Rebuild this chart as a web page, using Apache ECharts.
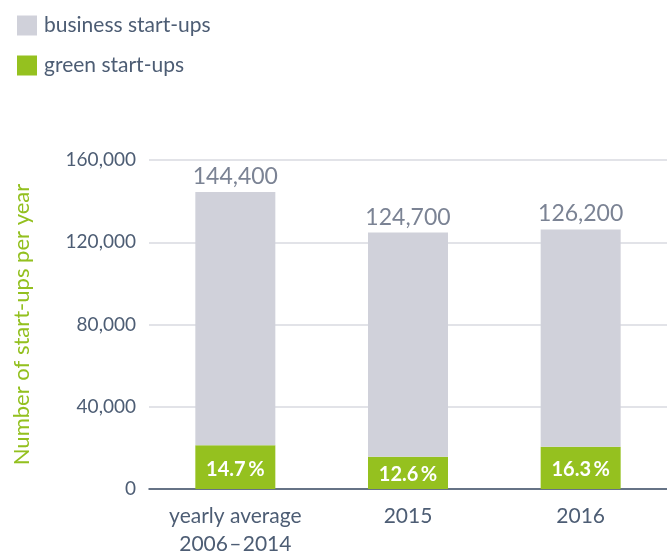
<!DOCTYPE html>
<html>
<head>
<meta charset="utf-8">
<script src="https://cdn.jsdelivr.net/npm/echarts@6/dist/echarts.min.js"></script>
<style>
  html, body { margin: 0; padding: 0; background: #fff; }
  #chart { width: 667px; height: 554px; }
</style>
</head>
<body>
<div id="chart"></div>
<script>
// data
var categories = ['yearly average\n2006\u200a\u2013\u200a2014', '2015', '2016'];
var totals = [144400, 124700, 126200];
var greenShare = [14.7, 12.6, 16.3];
var yTicks = [0, 40000, 80000, 120000, 160000];

var greenVals = totals.map(function (t, i) { return Math.round(t * greenShare[i] / 100); });
var restVals = totals.map(function (t, i) { return t - greenVals[i]; });

var chart = echarts.init(document.getElementById('chart'));
var font = 'Lato, "Noto Sans", sans-serif';

var option = {
  animation: false,
  textStyle: { fontFamily: font },
  legend: {
    orient: 'vertical',
    left: 12,
    top: 10,
    itemWidth: 20,
    itemHeight: 20,
    itemGap: 19,
    icon: 'rect',
    data: ['business start-ups', 'green start-ups'],
    textStyle: { color: '#4d5d74', fontSize: 21, fontFamily: font, padding: [0, 0, 0, 2] }
  },
  grid: { left: 149, right: 0, top: 160, bottom: 65, outerBoundsMode: 'none', containLabel: false },
  xAxis: {
    type: 'category',
    data: categories,
    axisTick: { show: false },
    axisLine: { lineStyle: { color: '#3e4f66', width: 1.5 } },
    axisLabel: { interval: 0, color: '#4d5d74', fontSize: 21, fontFamily: font, lineHeight: 28, margin: 13 }
  },
  yAxis: {
    type: 'value',
    min: 0,
    max: 160000,
    interval: 40000,
    name: 'Number of start-ups per year',
    nameLocation: 'middle',
    nameGap: 116,
    nameTextStyle: { color: '#93c01f', fontSize: 22, fontFamily: font },
    axisLine: { show: false },
    axisTick: { show: false },
    splitLine: { lineStyle: { color: '#d9dae0', width: 1.5 } },
    axisLabel: {
      color: '#4d5d74', fontSize: 19, fontFamily: font, margin: 13,
      formatter: function (v) { return yTicks.indexOf(v) >= 0 ? v.toLocaleString('en-US') : ''; }
    }
  },
  series: [
    {
      name: 'green start-ups',
      type: 'bar',
      stack: 'all',
      barWidth: 80,
      data: greenVals,
      itemStyle: { color: '#95c11f' },
      label: {
        show: true,
        position: 'inside',
        offset: [0, 2],
        color: '#ffffff',
        fontWeight: 'bold',
        fontSize: 20,
        fontFamily: font,
        formatter: function (p) { return greenShare[p.dataIndex].toFixed(1) + '\u2009%'; }
      }
    },
    {
      name: 'business start-ups',
      type: 'bar',
      stack: 'all',
      barWidth: 80,
      data: restVals,
      itemStyle: { color: '#d0d1da' },
      label: {
        show: true,
        position: 'top',
        distance: 4,
        color: '#7b8394',
        fontSize: 23,
        fontFamily: font,
        formatter: function (p) { return totals[p.dataIndex].toLocaleString('en-US'); }
      }
    }
  ]
};
chart.setOption(option);
</script>
</body>
</html>
